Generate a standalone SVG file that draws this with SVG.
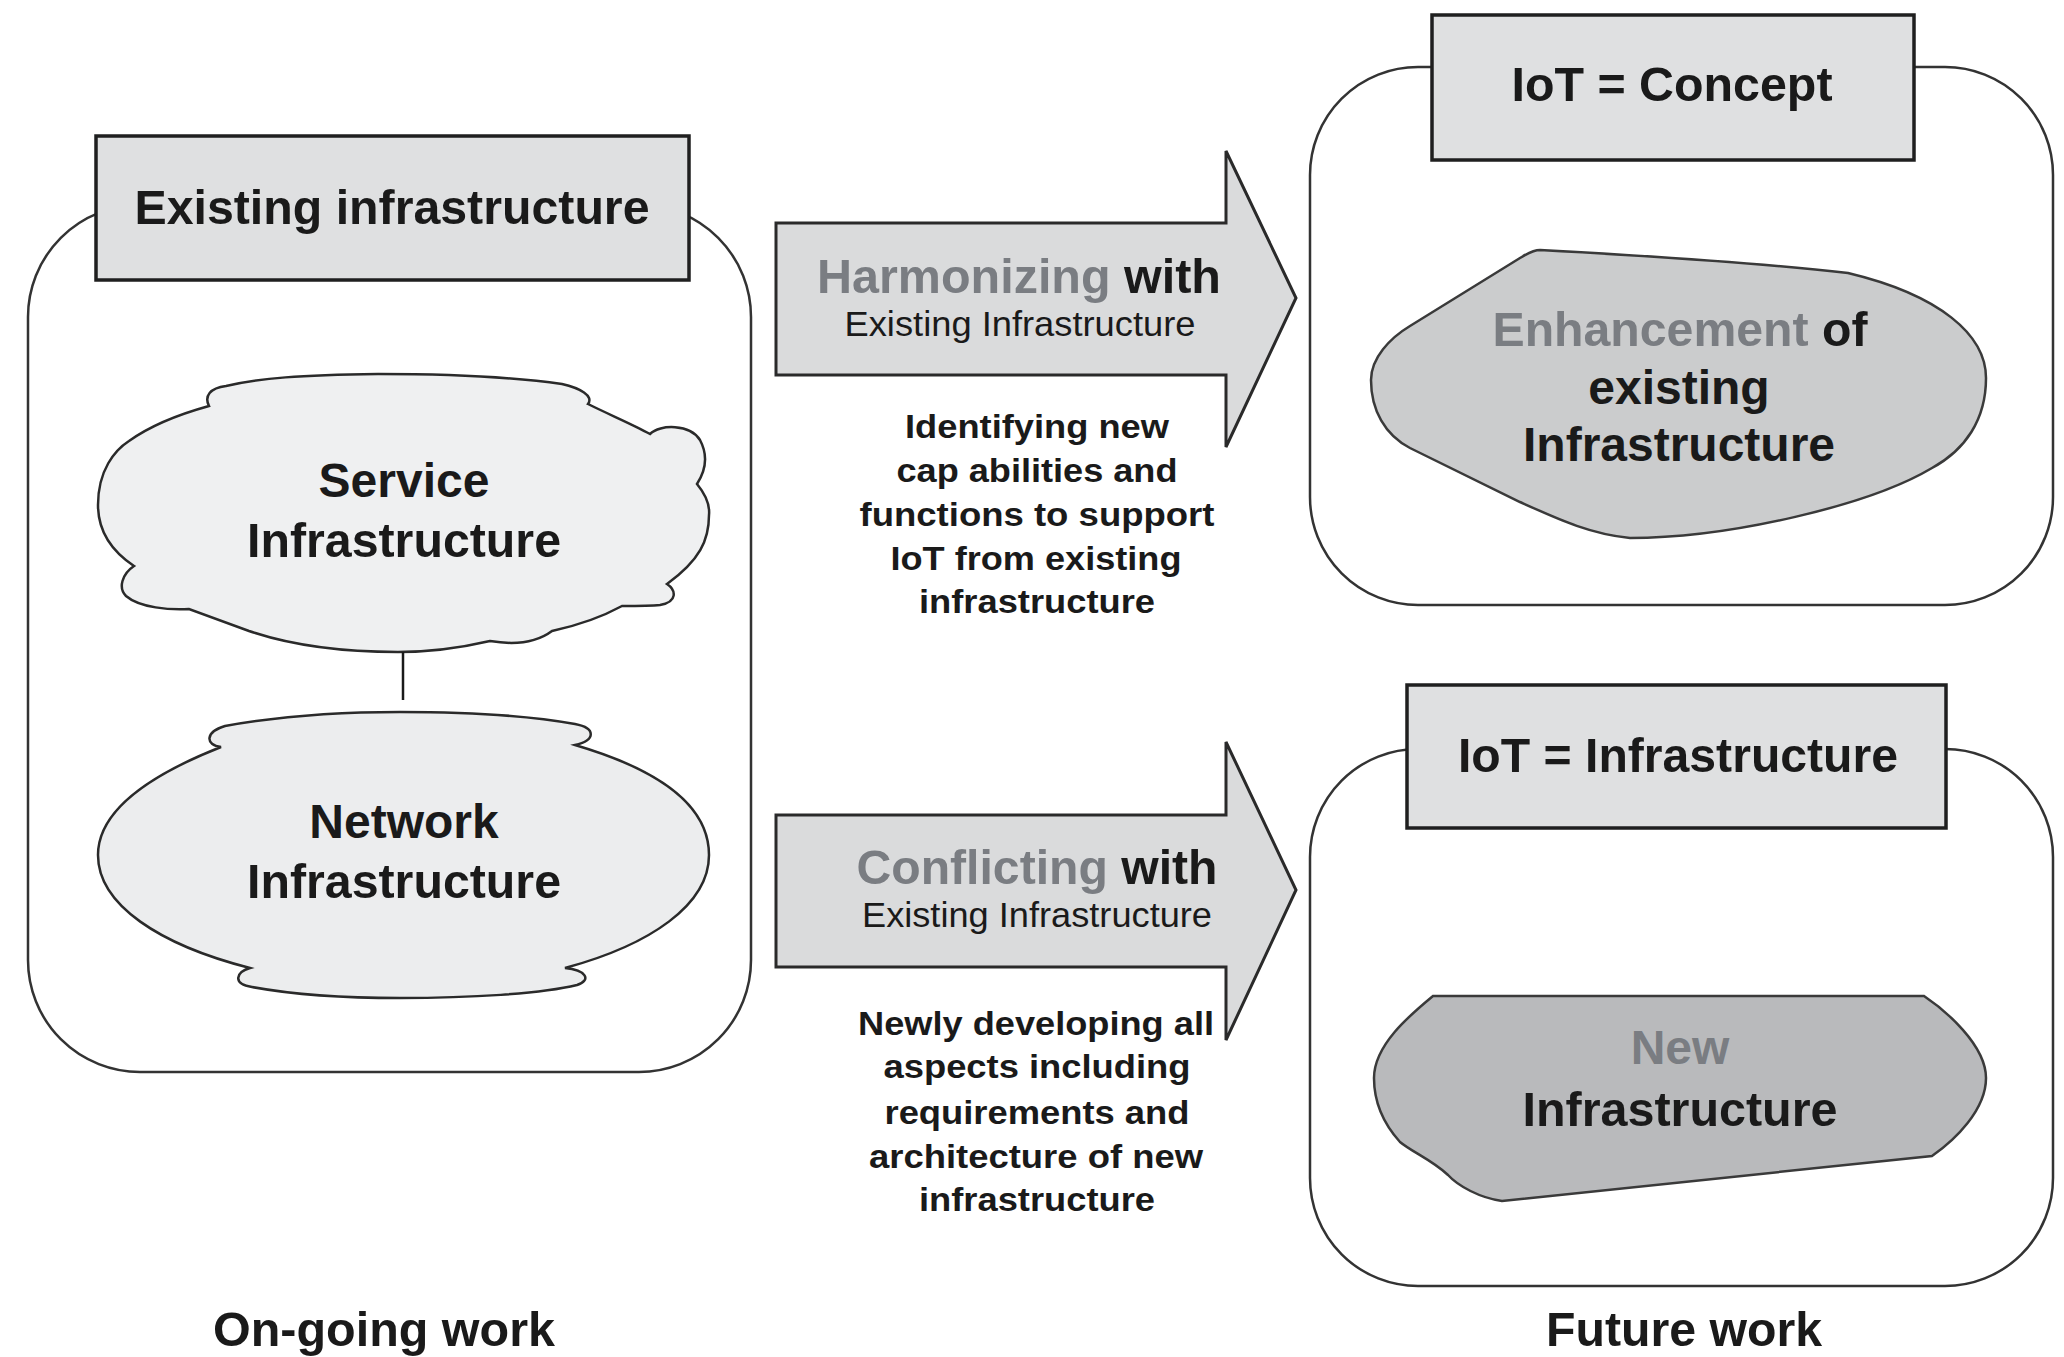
<svg xmlns="http://www.w3.org/2000/svg" width="2064" height="1357" viewBox="0 0 2064 1357">
<style>
.cont{fill:none;stroke:#333;stroke-width:2.5}
.box{fill:#dfe0e1;stroke:#1f1f1f;stroke-width:3.5}
.cloud{stroke:#2a2a2a;stroke-width:2.5}
.arrow{fill:#dadbdc;stroke:#2a2a2a;stroke-width:3;stroke-linejoin:miter}
.blob{stroke:#3a3a3a;stroke-width:2.5}
text{font-family:"Liberation Sans",Arial,Helvetica,sans-serif;fill:#1a1a1a;text-anchor:middle}
.b48{font-size:48px;font-weight:bold}
.r35{font-size:35px}
.b34{font-size:34px;font-weight:bold}
.gray{fill:#7a7d82}
</style>
<rect width="2064" height="1357" fill="#ffffff"/>

<g id="ongoing">
<rect class="cont" x="28" y="205" width="723" height="867" rx="112" ry="112"/>
<rect class="box" x="96" y="136" width="593" height="144"/>
<text class="b48" x="392" y="224" textLength="515" lengthAdjust="spacingAndGlyphs">Existing infrastructure</text>
</g>

<g id="service-infrastructure">
<path class="cloud" fill="#eff0f1" d="M 209,406 C 204,396 210,388 226,386 C 260,378 300,375 378,374 C 450,374 520,378 562,384 C 580,388 594,396 588,404 C 610,415 632,424 650,434 C 660,424 690,424 700,440 C 708,455 706,470 697,484 C 706,495 710,505 709,515 C 709,540 700,560 667,584 C 676,590 678,602 660,605 C 650,606 636,606 622,606 C 600,618 575,626 552,631 C 540,640 520,646 490,641 C 460,648 430,652 398,652 C 340,652 290,645 249,631 C 225,622 205,615 189,609 C 170,610 140,608 126,596 C 118,588 122,574 134,566 C 110,550 98,530 98,505 C 98,470 115,450 129,441 C 150,426 180,414 209,406 Z"/>
<text class="b48" x="404" y="497">Service</text>
<text class="b48" x="404" y="557" textLength="314" lengthAdjust="spacingAndGlyphs">Infrastructure</text>
</g>

<g id="network-infrastructure">
<path class="cloud" fill="#ecedee" d="M 221,747 C 150,775 98,810 98,855 C 98,905 160,945 250,968 C 236,972 232,984 252,987 C 300,996 350,998 400,998 C 470,998 540,994 577,985 C 592,980 586,970 565,968 C 650,945 709,905 709,855 C 709,805 660,770 575,745 C 596,740 596,728 575,724 C 520,714 460,712 400,712 C 340,712 280,716 225,726 C 205,732 205,745 221,747 Z"/>
<text class="b48" x="404" y="838">Network</text>
<text class="b48" x="404" y="898" textLength="314" lengthAdjust="spacingAndGlyphs">Infrastructure</text>
</g>

<g id="connectors">
<line x1="403" y1="652" x2="403" y2="700" stroke="#1a1a1a" stroke-width="2.5"/>
</g>

<g id="harmonizing-arrow">
<polygon class="arrow" points="776,223 1226,223 1226,151 1296,298 1226,447 1226,375 776,375"/>
<text class="b48" x="1019" y="293" textLength="404" lengthAdjust="spacingAndGlyphs"><tspan class="gray">Harmonizing</tspan> with</text>
<text class="r35" x="1020" y="336" textLength="351" lengthAdjust="spacingAndGlyphs">Existing Infrastructure</text>
</g>

<g id="harmonizing-note">
<text class="b34" x="1037" y="438" textLength="264" lengthAdjust="spacingAndGlyphs">Identifying new</text>
<text class="b34" x="1037" y="482" textLength="281" lengthAdjust="spacingAndGlyphs">cap abilities and</text>
<text class="b34" x="1037" y="526" textLength="355" lengthAdjust="spacingAndGlyphs">functions to support</text>
<text class="b34" x="1036" y="570" textLength="291" lengthAdjust="spacingAndGlyphs">IoT from existing</text>
<text class="b34" x="1037" y="613" textLength="236" lengthAdjust="spacingAndGlyphs">infrastructure</text>
</g>

<g id="conflicting-arrow">
<polygon class="arrow" points="776,815 1226,815 1226,742 1296,890 1226,1040 1226,967 776,967"/>
<text class="b48" x="1037" y="884" textLength="361" lengthAdjust="spacingAndGlyphs"><tspan class="gray">Conflicting</tspan> with</text>
<text class="r35" x="1037" y="927" textLength="350" lengthAdjust="spacingAndGlyphs">Existing Infrastructure</text>
</g>

<g id="conflicting-note">
<text class="b34" x="1036" y="1035" textLength="356" lengthAdjust="spacingAndGlyphs">Newly developing all</text>
<text class="b34" x="1037" y="1078" textLength="307" lengthAdjust="spacingAndGlyphs">aspects including</text>
<text class="b34" x="1037" y="1124" textLength="305" lengthAdjust="spacingAndGlyphs">requirements and</text>
<text class="b34" x="1036" y="1168" textLength="334" lengthAdjust="spacingAndGlyphs">architecture of new</text>
<text class="b34" x="1037" y="1211" textLength="236" lengthAdjust="spacingAndGlyphs">infrastructure</text>
</g>

<g id="iot-concept">
<rect class="cont" x="1310" y="67" width="743" height="538" rx="108" ry="108"/>
<rect class="box" x="1432" y="15" width="482" height="145"/>
<text class="b48" x="1672" y="101" textLength="321" lengthAdjust="spacingAndGlyphs">IoT = Concept</text>
</g>

<g id="enhancement">
<path class="blob" fill="#cbcccd" d="M 1540,250 C 1650,256 1760,263 1848,273 C 1940,295 1986,335 1986,378 C 1986,420 1965,450 1932,468 C 1870,505 1730,538 1630,538 C 1590,534 1560,520 1520,502 L 1410,448 C 1385,435 1371,410 1371,380 C 1371,358 1390,338 1410,326 L 1520,258 C 1528,253 1534,250 1540,250 Z"/>
<text class="b48" x="1680" y="346" textLength="375" lengthAdjust="spacingAndGlyphs"><tspan class="gray">Enhancement</tspan> of</text>
<text class="b48" x="1679" y="404">existing</text>
<text class="b48" x="1679" y="461" textLength="312" lengthAdjust="spacingAndGlyphs">Infrastructure</text>
</g>

<g id="iot-infrastructure">
<rect class="cont" x="1310" y="749" width="743" height="537" rx="108" ry="108"/>
<rect class="box" x="1407" y="685" width="539" height="143"/>
<text class="b48" x="1678" y="772" textLength="440" lengthAdjust="spacingAndGlyphs">IoT = Infrastructure</text>
</g>

<g id="new-infrastructure">
<path class="blob" fill="#b9babc" d="M 1433,996 L 1924,996 C 1945,1010 1986,1045 1986,1078 C 1986,1110 1955,1140 1932,1156 L 1502,1201 C 1480,1198 1458,1186 1448,1175 C 1432,1160 1412,1152 1400,1142 C 1382,1122 1374,1100 1374,1078 C 1374,1045 1410,1015 1433,996 Z"/>
<text class="b48 gray" x="1680" y="1064">New</text>
<text class="b48" x="1680" y="1126" textLength="315" lengthAdjust="spacingAndGlyphs">Infrastructure</text>
</g>

<g id="captions">
<text class="b48" x="384" y="1346" textLength="342" lengthAdjust="spacingAndGlyphs">On-going work</text>
<text class="b48" x="1684" y="1346" textLength="276" lengthAdjust="spacingAndGlyphs">Future work</text>
</g>
</svg>
